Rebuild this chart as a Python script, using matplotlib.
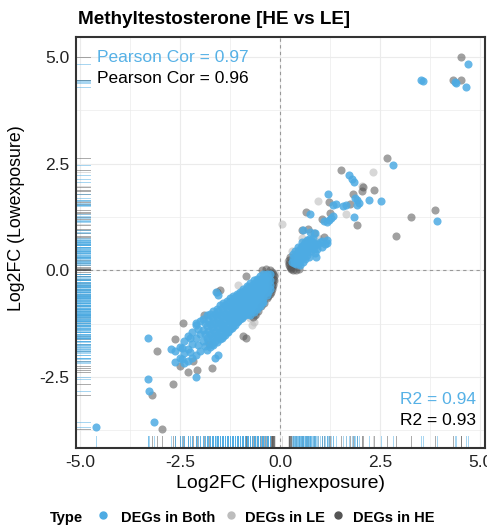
import numpy as np
import matplotlib
matplotlib.use("Agg")
import matplotlib.pyplot as plt
from matplotlib.lines import Line2D

# (Log2FC high exposure, Log2FC low exposure)
both_pts = [
    # top right corner
    (4.69, 4.84), (3.52, 4.47), (3.56, 4.43), (4.39, 4.39), (4.36, 4.41), (4.65, 4.30),
    # upper right spread
    (2.82, 2.46), (1.73, 2.23), (1.80, 2.13), (1.84, 2.07), (1.19, 1.78), (1.87, 1.70),
    (1.92, 1.64), (1.96, 1.58), (1.92, 1.53), (2.21, 1.64), (2.52, 1.62), (1.33, 1.52),
    (1.40, 1.55), (1.57, 1.50), (1.64, 1.52), (0.75, 1.31), (1.85, 1.25), (1.18, 1.13),
    (1.22, 1.18), (1.28, 1.22), (1.33, 1.28), (1.10, 1.15), (3.92, 1.15), (1.04, 0.55),
    (1.12, 0.62), (1.18, 0.64), (0.58, 0.94), (0.75, 0.90), (0.88, 0.87), (1.17, 0.70),
    (1.05, 0.68),
    # positive blob
    (0.30, 0.20), (0.32, 0.28), (0.35, 0.16), (0.37, 0.34), (0.40, 0.24), (0.42, 0.40),
    (0.45, 0.30), (0.47, 0.48), (0.50, 0.36), (0.52, 0.54), (0.55, 0.42), (0.57, 0.60),
    (0.60, 0.48), (0.62, 0.66), (0.65, 0.54), (0.67, 0.70), (0.70, 0.58), (0.72, 0.74),
    (0.75, 0.62), (0.78, 0.70), (0.80, 0.55), (0.84, 0.64), (0.88, 0.58), (0.92, 0.50),
    (0.36, 0.44), (0.44, 0.55), (0.54, 0.66), (0.40, 0.14), (0.48, 0.22), (0.58, 0.32),
    (0.68, 0.42), (0.78, 0.45), (0.86, 0.40), (0.90, 0.30), (0.62, 0.26), (0.72, 0.30),
    (0.50, 0.12), (0.33, 0.38), (0.95, 0.62), (1.00, 0.66), (0.82, 0.76),
    (0.34, 0.22), (0.38, 0.28), (0.43, 0.34), (0.47, 0.40), (0.52, 0.46), (0.56, 0.52),
    (0.61, 0.58), (0.66, 0.62), (0.70, 0.66), (0.74, 0.68), (0.46, 0.18), (0.52, 0.28),
    (0.58, 0.40), (0.64, 0.46), (0.74, 0.52), (0.82, 0.60), (0.66, 0.36), (0.56, 0.20),
    (0.84, 0.50),
    # negative band, column by column
    (-0.25, -0.10), (-0.25, -0.22), (-0.25, -0.34), (-0.25, -0.44),
    (-0.29, -0.15), (-0.29, -0.27), (-0.29, -0.39), (-0.29, -0.50),
    (-0.33, -0.08), (-0.33, -0.20), (-0.33, -0.32), (-0.33, -0.46), (-0.33, -0.58),
    (-0.37, -0.14), (-0.37, -0.27), (-0.37, -0.40), (-0.37, -0.54),
    (-0.42, -0.10), (-0.42, -0.24), (-0.42, -0.38), (-0.42, -0.52), (-0.42, -0.66),
    (-0.42, -0.74),
    (-0.46, -0.19), (-0.46, -0.33), (-0.46, -0.47), (-0.46, -0.61), (-0.46, -0.76),
    (-0.50, -0.14), (-0.50, -0.28), (-0.50, -0.42), (-0.50, -0.56), (-0.50, -0.70),
    (-0.50, -0.84),
    (-0.54, -0.24), (-0.54, -0.38), (-0.54, -0.52), (-0.54, -0.66), (-0.54, -0.82),
    (-0.58, -0.20), (-0.58, -0.34), (-0.58, -0.48), (-0.58, -0.62), (-0.58, -0.76),
    (-0.58, -0.92),
    (-0.62, -0.29), (-0.62, -0.43), (-0.62, -0.57), (-0.62, -0.72), (-0.62, -0.88),
    (-0.66, -0.24), (-0.66, -0.38), (-0.66, -0.52), (-0.66, -0.66), (-0.66, -0.82),
    (-0.66, -0.98),
    (-0.70, -0.34), (-0.70, -0.48), (-0.70, -0.63), (-0.70, -0.79), (-0.70, -0.95),
    (-0.75, -0.30), (-0.75, -0.44), (-0.75, -0.60), (-0.75, -0.76), (-0.75, -0.92),
    (-0.75, -1.06),
    (-0.79, -0.40), (-0.79, -0.55), (-0.79, -0.70), (-0.79, -0.86), (-0.79, -1.02),
    (-0.83, -0.36), (-0.83, -0.52), (-0.83, -0.68), (-0.83, -0.84), (-0.83, -1.00),
    (-0.87, -0.46), (-0.87, -0.62), (-0.87, -0.78), (-0.87, -0.94), (-0.87, -1.06),
    (-0.92, -0.44), (-0.92, -0.60), (-0.92, -0.76), (-0.92, -0.92), (-0.92, -1.08),
    (-0.96, -0.52), (-0.96, -0.68), (-0.96, -0.84), (-0.96, -1.00), (-0.96, -1.12),
    (-1.00, -0.50), (-1.00, -0.66), (-1.00, -0.82), (-1.00, -0.98), (-1.00, -1.14),
    (-1.04, -0.58), (-1.04, -0.74), (-1.04, -0.92), (-1.04, -1.08), (-1.04, -1.20),
    (-1.08, -0.55), (-1.08, -0.72), (-1.08, -0.90), (-1.08, -1.06), (-1.08, -1.22),
    (-1.12, -0.64), (-1.12, -0.82), (-1.12, -1.00), (-1.12, -1.16), (-1.12, -1.28),
    (-1.17, -0.60), (-1.17, -0.78), (-1.17, -0.96), (-1.17, -1.14), (-1.17, -1.30),
    (-1.21, -0.70), (-1.21, -0.88), (-1.21, -1.06), (-1.21, -1.24), (-1.21, -1.36),
    (-1.25, -0.66), (-1.25, -0.84), (-1.25, -1.02), (-1.25, -1.20), (-1.25, -1.38),
    (-1.29, -0.76), (-1.29, -0.94), (-1.29, -1.12), (-1.29, -1.30), (-1.29, -1.44),
    (-1.33, -0.72), (-1.33, -0.92), (-1.33, -1.10), (-1.33, -1.28), (-1.33, -1.46),
    (-1.37, -0.82), (-1.37, -1.02), (-1.37, -1.20), (-1.37, -1.38), (-1.37, -1.52),
    (-1.42, -0.78), (-1.42, -0.98), (-1.42, -1.18), (-1.42, -1.36), (-1.42, -1.54),
    (-1.46, -0.88), (-1.46, -1.08), (-1.46, -1.28), (-1.46, -1.46), (-1.46, -1.60),
    (-1.50, -0.82), (-1.50, -1.04), (-1.50, -1.24), (-1.50, -1.44), (-1.50, -1.62),
    (-1.54, -0.95), (-1.54, -1.16), (-1.54, -1.36), (-1.54, -1.56),
    (-1.58, -0.90), (-1.58, -1.10), (-1.58, -1.32), (-1.58, -1.52), (-1.58, -1.68),
    (-1.62, -1.02), (-1.62, -1.24), (-1.62, -1.46), (-1.62, -1.66),
    (-1.67, -0.96), (-1.67, -1.18), (-1.67, -1.40), (-1.67, -1.60), (-1.67, -1.76),
    (-1.71, -1.10), (-1.71, -1.34), (-1.71, -1.56), (-1.71, -1.74),
    (-1.75, -1.02), (-1.75, -1.26), (-1.75, -1.50), (-1.75, -1.80),
    (-1.79, -1.16), (-1.79, -1.42), (-1.79, -1.66),
    (-1.83, -1.06), (-1.83, -1.32), (-1.83, -1.58), (-1.83, -1.86),
    (-1.88, -1.24), (-1.88, -1.50), (-1.88, -1.78),
    (-1.92, -1.14), (-1.92, -1.40), (-1.92, -1.66),
    (-2.00, -1.20), (-2.00, -1.50), (-2.00, -1.90),
    (-2.05, -1.38), (-2.05, -1.76),
    (-2.10, -1.28), (-2.10, -1.60), (-2.10, -1.98),
    (-2.20, -1.45), (-2.20, -1.72), (-2.20, -2.05),
    (-2.25, -1.60), (-2.25, -1.92),
    (-2.30, -1.55), (-2.30, -1.85), (-2.30, -2.12),
    (-2.40, -1.65), (-2.40, -1.95), (-2.40, -2.18),
    (-2.45, -1.82), (-2.45, -2.08),
    (-2.50, -1.80), (-2.50, -2.05), (-2.62, -1.90), (-2.62, -2.15), (-2.72, -1.85),
    (-1.55, -0.58), (-1.60, -0.52), (-1.62, -2.05), (-1.55, -2.00), (-2.10, -2.50),
    (-2.10, -1.23), (-3.29, -1.60), (-3.31, -2.55), (-3.27, -2.84), (-3.15, -3.56),
    (-4.61, -3.67),
]

he_pts = [
    (4.53, 5.00), (4.31, 4.47), (4.53, 4.45), (2.67, 2.64), (1.53, 2.36), (2.07, 1.95),
    (2.05, 1.86), (2.35, 1.88), (1.82, 1.78), (1.21, 1.60), (1.75, 1.56), (0.65, 1.37),
    (1.04, 1.19), (1.25, 1.34), (1.92, 1.05), (3.28, 1.25), (3.86, 1.41), (2.89, 0.80),
    (0.54, 0.94), (0.70, 0.96), (0.85, 0.88), (1.10, 0.78),
    (-3.08, -1.89), (-2.42, -1.23), (-2.29, -2.38), (-2.07, -2.34), (-2.67, -2.67),
    (-3.21, -2.93), (-2.94, -3.73), (-1.71, -2.30), (-0.93, -1.55), (-0.86, -1.60),
    (-0.67, -1.09), (-0.62, -1.05), (-0.85, -0.13), (-1.58, -0.51), (-1.50, -0.46),
    (-2.62, -1.62), (-1.78, -1.72), (-2.18, -2.12), (-2.50, -2.25), (-1.90, -1.05),
    # dark rim round the negative tip
    (-0.45, 0.00), (-0.35, 0.02), (-0.25, 0.01), (-0.19, -0.04), (-0.16, -0.14),
    (-0.15, -0.24), (-0.17, -0.35), (-0.21, -0.45), (-0.26, -0.55), (-0.33, -0.66),
    (-0.40, -0.76), (-0.47, -0.85), (-0.55, -0.95), (-0.20, -0.30), (-0.22, -0.10),
    (-0.18, -0.08), (-0.17, -0.20), (-0.19, -0.40), (-0.23, -0.50), (-0.30, -0.60),
    # dark rim round the positive blob
    (0.21, 0.16), (0.24, 0.08), (0.28, 0.03), (0.33, 0.00), (0.23, 0.24), (0.25, 0.32),
    (0.40, 0.00), (0.22, 0.12), (0.26, 0.05), (0.46, 0.04),
]

le_pts = [
    (2.33, 2.30), (0.94, 1.62), (1.64, 1.33), (0.05, 1.08), (2.04, 1.98),
    (-0.71, -1.29), (-0.66, -1.22), (-0.14, -0.28), (-0.13, -0.10), (0.19, 0.22),
    (0.30, 0.46), (-1.05, -0.35), (-0.60, -1.02), (-0.75, -1.12), (0.55, 0.75),
    (0.95, 0.75),
]

types = ["DEGs in Both", "DEGs in LE", "DEGs in HE"]
type_colors = ["#4DABE3", "#BDBDBD", "#555555"]
pearson_txt = ["Pearson Cor = 0.97", "Pearson Cor = 0.96"]
r2_txt = ["R2 = 0.94", "R2 = 0.93"]
ticks = [-5.0, -2.5, 0.0, 2.5, 5.0]

plt.rcParams['font.family'] = ['Liberation Sans', 'DejaVu Sans']

fig = plt.figure(figsize=(4.87, 5.28), dpi=100)
ax = fig.add_axes([76/487, 80/528, 409/487, 411/528])

# grid
for v in np.arange(-5, 5.01, 1.25):
    ax.axvline(v, color="#EBEBEB", lw=0.8 if v % 2.5 == 0 else 0.5, zorder=0)
    ax.axhline(v, color="#EBEBEB", lw=0.8 if v % 2.5 == 0 else 0.5, zorder=0)
ax.axvline(0, color="#999999", lw=0.8, ls=(0, (3, 3)), zorder=1)
ax.axhline(0, color="#999999", lw=0.8, ls=(0, (3, 3)), zorder=1)

groups = [(le_pts, type_colors[1], 0.6), (he_pts, type_colors[2], 0.55),
          (both_pts, type_colors[0], 0.85)]
for pts, col, a in groups:
    arr = np.array(pts)
    ax.scatter(arr[:, 0], arr[:, 1], s=34, color=col, alpha=a, lw=0, zorder=3)
    # rugs
    for xv in arr[:, 0]:
        ax.plot([xv, xv], [0, 0.03], color=col, alpha=0.5, lw=0.7,
                transform=ax.get_xaxis_transform(), zorder=2, clip_on=False)
    for yv in arr[:, 1]:
        ax.plot([0, 0.034], [yv, yv], color=col, alpha=0.5, lw=0.7,
                transform=ax.get_yaxis_transform(), zorder=2, clip_on=False)

ax.set_xlim(-5.1, 5.12)
ax.set_ylim(-4.17, 5.47)
yt = ticks[1:]
ax.set_xticks(ticks)
ax.set_yticks(yt)
ax.set_xticklabels([f"{t:.1f}" for t in ticks])
ax.set_yticklabels([f"{t:.1f}" for t in yt])
ax.tick_params(length=0, labelsize=12.5, pad=5, colors="#222222")
for sp in ax.spines.values():
    sp.set_color("#333333")
    sp.set_linewidth(1.5)

ax.set_xlabel("Log2FC (Highexposure)", fontsize=14, labelpad=4)
ax.set_ylabel("Log2FC (Lowexposure)", fontsize=12.8)
ax.yaxis.set_label_coords(-0.125, 0.56)

ax.text(0.051, 0.949, pearson_txt[0], color="#56B1E6", fontsize=12.5,
        transform=ax.transAxes, va="center", ha="left")
ax.text(0.051, 0.898, pearson_txt[1], color="black", fontsize=12.5,
        transform=ax.transAxes, va="center", ha="left")
ax.text(0.978, 0.117, r2_txt[0], color="#56B1E6", fontsize=12.5,
        transform=ax.transAxes, va="center", ha="right")
ax.text(0.978, 0.066, r2_txt[1], color="black", fontsize=12.5,
        transform=ax.transAxes, va="center", ha="right")

fig.text(78/487, 1 - 19/528, "Methyltestosterone [HE vs LE]",
         fontweight="bold", fontsize=13.6, va="center", ha="left")

# legend row at the bottom
ly = 1 - 518/528
fig.text(50/487, ly, "Type", fontweight="bold", fontsize=10.5,
         va="center", ha="left")
mx = [103, 231, 338]
tx = [121, 245, 353]
for i in range(3):
    fig.add_artist(Line2D([mx[i]/487], [ly + 0.005], marker="o", ms=5,
                          color=type_colors[i], lw=0, transform=fig.transFigure))
    fig.text(tx[i]/487, ly, types[i], fontweight="bold",
             fontsize=10.5, va="center", ha="left")

fig.savefig("out.png", dpi=100)
